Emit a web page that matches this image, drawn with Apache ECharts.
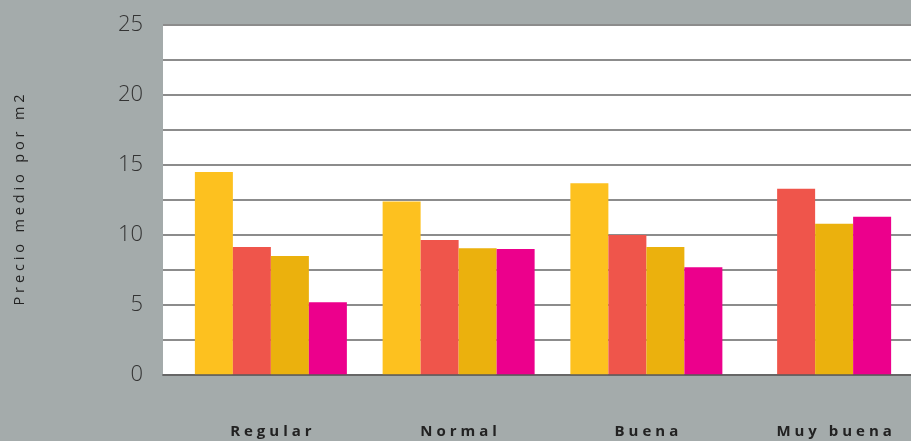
<!DOCTYPE html>
<html>
<head>
<meta charset="utf-8">
<script src="https://cdn.jsdelivr.net/npm/echarts@6/dist/echarts.min.js"></script>
<style>
  html, body { margin: 0; padding: 0; background: #a4abab; overflow: hidden; }
  #chart { width: 940px; height: 441px; }
</style>
</head>
<body>
<div id="chart"></div>
<script>
// Precio medio por m2 según estado de conservación
const categories = ['Regular', 'Normal', 'Buena', 'Muy buena'];
const serieA = [14.5, 12.4, 13.7, null];
const serieB = [9.15, 9.65, 10.0, 13.3];
const serieC = [8.5, 9.05, 9.15, 10.8];
const serieD = [5.2, 9.0, 7.7, 11.3];
const yTicks = [0, 5, 10, 15, 20, 25];

const colors = ['#fdc11f', '#ef554b', '#ebb10d', '#ec008c'];
const allSeries = [serieA, serieB, serieC, serieD];

// widen letter spacing with thin + hair spaces
const GAP = '\u2009\u200A';
const spaced = s => s.split(' ').map(w => w.split('').join(GAP)).join(GAP + ' ' + GAP);

// categories with every value present use the four-slot layout,
// the others get their bars packed and centred on a second axis
const complete = categories.map((_, i) => allSeries.every(s => s[i] != null));

const series = [];
allSeries.forEach((vals, k) => {
  series.push({
    type: 'bar', xAxisIndex: 1, yAxisIndex: 1,
    barWidth: 38, barGap: '0%',
    itemStyle: { color: colors[k] },
    data: vals.map((v, i) => complete[i] ? v : null),
    z: 2
  });
});
allSeries.forEach((vals, k) => {
  if (!categories.some((_, i) => !complete[i] && vals[i] != null)) return;
  series.push({
    type: 'bar', xAxisIndex: 2, yAxisIndex: 1,
    barWidth: 38, barGap: '0%',
    itemStyle: { color: colors[k] },
    data: vals.map((v, i) => complete[i] ? null : v),
    z: 2
  });
});

const chart = echarts.init(document.getElementById('chart'), null, { renderer: 'canvas' });
chart.setOption({
  backgroundColor: '#a4abab',
  animation: false,
  grid: [
    { left: 163, right: 29, top: 25, bottom: 66, show: true, backgroundColor: '#ffffff', borderWidth: 0, containLabel: false },
    { left: 177, right: 12, top: 25, bottom: 66, containLabel: false }
  ],
  xAxis: [
    { gridIndex: 0, type: 'value', min: 0, max: 1, axisLabel: { show: false }, axisTick: { show: false }, splitLine: { show: false },
      axisLine: { show: true, lineStyle: { color: 'rgba(90,90,90,0.75)', width: 2 } }, z: 5 },
    { gridIndex: 1, type: 'category', data: categories.map(spaced),
      axisLine: { show: false }, axisTick: { show: false },
      axisLabel: { margin: 49, color: '#222', fontFamily: 'Open Sans', fontWeight: 'bold', fontSize: 15, lineHeight: 16 } },
    { gridIndex: 1, type: 'category', data: categories, show: false }
  ],
  yAxis: [
    { gridIndex: 0, type: 'value', min: 0, max: 25, interval: 2.5,
      name: spaced('Precio medio por m2'),
      nameLocation: 'middle', nameGap: 136, nameRotate: 90,
      nameTextStyle: { color: '#222', fontFamily: 'Open Sans', fontSize: 14.5 },
      axisLine: { show: false }, axisTick: { show: false },
      axisLabel: { margin: 20, color: '#333', fontFamily: 'Open Sans', fontWeight: 300, fontSize: 22,
        formatter: v => yTicks.includes(v) ? String(v) : '' },
      splitLine: { show: true, lineStyle: { color: '#8c8c8c', width: 2 } } },
    { gridIndex: 1, type: 'value', min: 0, max: 25, show: false, splitLine: { show: false } }
  ],
  series: series
});
</script>
</body>
</html>
